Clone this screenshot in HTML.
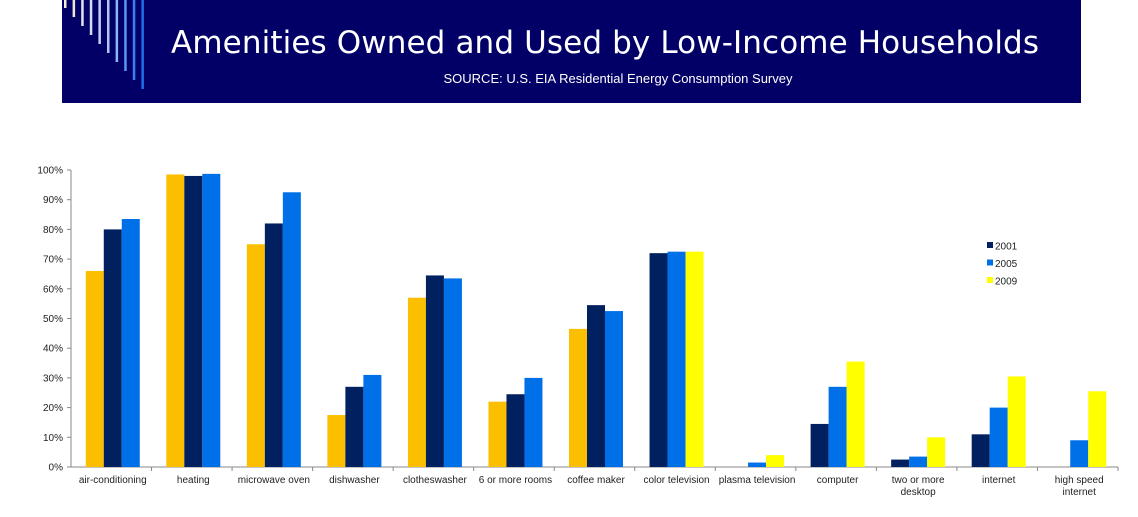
<!DOCTYPE html>
<html><head><meta charset="utf-8"><style>
body{margin:0;width:1138px;height:512px;background:#fff;overflow:hidden;font-family:"Liberation Sans",sans-serif;}
</style></head><body>
<svg width="1138" height="512" xmlns="http://www.w3.org/2000/svg">
<rect x="62" y="0" width="1019" height="103" fill="#020066"/>
<g id="deco"></g>
<text x="605" y="53" text-anchor="middle" fill="#fff" font-size="31" textLength="868" font-family="'DejaVu Sans','Liberation Sans',sans-serif">Amenities Owned and Used by Low-Income Households</text>
<text x="618" y="83" text-anchor="middle" fill="#fff" font-size="13">SOURCE: U.S. EIA Residential Energy Consumption Survey</text>
<g id="chart"></g>
</svg>
<script>
const categories=["air-conditioning","heating","microwave oven","dishwasher","clotheswasher","6 or more rooms","coffee maker","color television","plasma television","computer","two or more|desktop","internet","high speed|internet"];
const series1=[66,98.5,75,17.5,57,22,46.5,72,0,14.5,2.5,11,0];
const series2=[80,98,82,27,64.5,24.5,54.5,72.5,1.5,27,3.5,20,9];
const series3=[83.5,98.7,92.5,31,63.5,30,52.5,72.5,4,35.5,10,30.5,25.5];
const schemes=["old","old","old","old","old","old","old","new","new","new","new","new","new"];
const yTicks=[0,10,20,30,40,50,60,70,80,90,100];
const legendLabels=["2001","2005","2009"];
const NS="http://www.w3.org/2000/svg";
function mk(t,a,p){const e=document.createElementNS(NS,t);for(const k in a)e.setAttribute(k,a[k]);p.appendChild(e);return e;}
const deco=document.getElementById('deco');
const dc=["#f3efd0","#ece9d2","#e0e3e6","#d2dcee","#c2d3f2","#aec7f4","#8fb4f4","#5a95f0","#3a80ee","#1f6fea"];
for(let i=0;i<dc.length;i++){const l=mk('rect',{x:64+i*8.6,y:0,width:2.5,height:8+i*9,fill:dc[i]},deco);

}
const g=document.getElementById('chart');
const x0=71,x1=1118,y0=467,y100=170;
const yS=v=>y0-(y0-y100)*v/100;
const gw=(x1-x0)/categories.length;
const bw=18;
for(const t of yTicks){const y=yS(t);
const tx=mk('text',{x:63,y:y+3.5,'text-anchor':'end','font-size':10,fill:'#222'},g);tx.textContent=t+'%';


mk('line',{x1:67,x2:71,y1:y,y2:y,stroke:'#888'},g);}
const ya=mk('line',{x1:71,x2:71,y1:y100,y2:y0,stroke:'#888'},g);


const xa=mk('line',{x1:x0,x2:x1,y1:y0,y2:y0,stroke:'#888'},g);


const colsOld=["#fbbf00","#002060","#0070e8"],colsNew=["#002060","#0070e8","#ffff00"];
const all=[series1,series2,series3];
categories.forEach((c,i)=>{
const gx=x0+i*gw,cx=gx+gw/2+1.5;
mk('line',{x1:gx+gw,x2:gx+gw,y1:y0,y2:y0+4,stroke:'#888'},g);
const cols=schemes[i]==="old"?colsOld:colsNew;
all.forEach((s,j)=>{const v=s[i];if(v<=0)return;
const b=mk('rect',{x:cx-1.5*bw+j*bw,y:yS(v),width:bw,height:y0-yS(v),fill:cols[j]},g);

});
c.split('|').forEach((ln,k)=>{const t=mk('text',{x:cx,y:483+k*12,'text-anchor':'middle','font-size':10,fill:'#222'},g);t.textContent=ln;

});
});
legendLabels.forEach((l,i)=>{const y=246+i*17.5;
const r=mk('rect',{x:987,y:y-4,width:6,height:6,fill:colsNew[i]},g);


const t=mk('text',{x:995,y:y+3.5,'font-size':10,fill:'#222'},g);t.textContent=l;

});
</script>
</body></html>
